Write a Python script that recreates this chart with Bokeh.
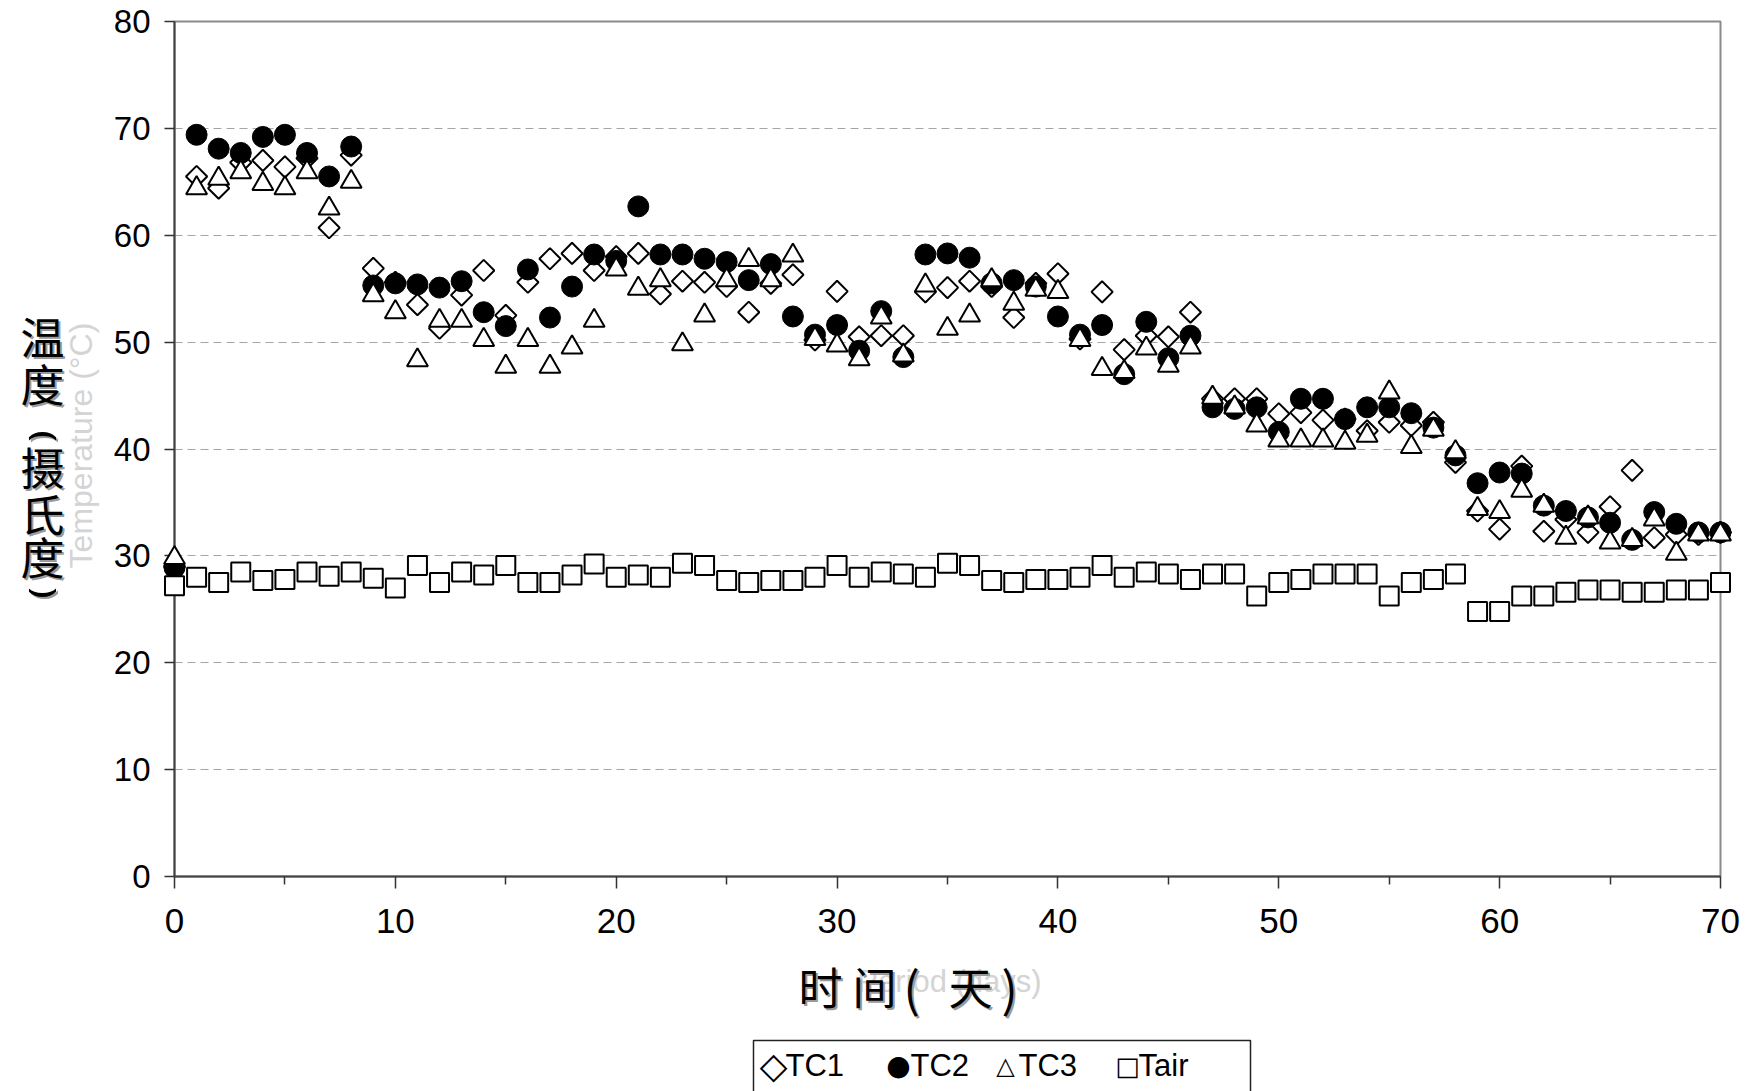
import math
from bokeh.plotting import figure
from bokeh.models import Range1d, FixedTicker, ColumnDataSource
from bokeh.core.properties import value
from bokeh.embed import file_html
from bokeh.resources import INLINE

# ---------------- data ----------------
days = list(range(71))
tc1 = [29.0, 65.5, 64.4, 66.8, 67.0, 66.4, 67.2, 60.7, 67.5, 56.9,
       55.6, 53.5, 51.3, 54.4, 56.7, 52.5, 55.6, 57.8, 58.3, 56.7,
       58.0, 58.3, 54.5, 55.7, 55.6, 55.2, 52.8, 55.5, 56.3, 50.2,
       54.75, 50.5, 50.6, 50.6, 54.7, 55.1, 55.7, 55.2, 52.3, 55.5,
       56.4, 50.3, 54.7, 49.3, 50.6, 50.5, 52.8, 44.7, 44.7, 44.7,
       43.3, 43.4, 42.7, 42.8, 41.7, 42.5, 42.2, 42.5, 38.75, 34.2,
       32.5, 38.4, 32.3, 33.4, 32.2, 34.6, 38.0, 31.7, 32.0, 32.0,
       32.2]
tc2 = [28.9, 69.4, 68.1, 67.7, 69.2, 69.4, 67.7, 65.5, 68.3, 55.3,
       55.5, 55.4, 55.1, 55.7, 52.8, 51.5, 56.8, 52.3, 55.2, 58.2,
       57.6, 62.7, 58.2, 58.2, 57.8, 57.5, 55.8, 57.3, 52.4, 50.7,
       51.6, 49.2, 52.9, 48.6, 58.2, 58.3, 57.9, 55.5, 55.8, 55.2,
       52.4, 50.7, 51.6, 47.0, 51.9, 48.5, 50.6, 43.9, 43.75, 43.9,
       41.6, 44.7, 44.7, 42.8, 43.9, 43.9, 43.35, 42.0, 39.4, 36.8,
       37.8, 37.7, 34.7, 34.2, 33.6, 33.1, 31.5, 34.1, 33.0, 32.2,
       32.2]
tc3 = [29.8, 64.4, 65.3, 65.9, 64.8, 64.4, 65.9, 62.5, 65.0, 54.4,
       52.8, 48.3, 52.0, 52.0, 50.2, 47.7, 50.2, 47.7, 49.5, 52.0,
       56.8, 55.0, 55.8, 49.8, 52.5, 55.8, 57.7, 55.8, 58.1, 50.3,
       49.7, 48.4, 52.3, 48.75, 55.3, 51.25, 52.5, 55.8, 53.6, 54.9,
       54.7, 50.2, 47.5, 47.2, 49.4, 47.8, 49.5, 44.8, 43.9, 42.2,
       40.8, 40.8, 40.8, 40.6, 41.25, 45.3, 40.2, 41.8, 39.7, 34.4,
       34.1, 36.1, 34.7, 31.7, 33.6, 31.25, 31.5, 33.4, 30.2, 32.0,
       32.0]
tair = [27.2, 28.0, 27.5, 28.5, 27.7, 27.8, 28.5, 28.1, 28.5, 27.9,
        27.0, 29.1, 27.5, 28.5, 28.2, 29.1, 27.5, 27.5, 28.2, 29.25,
        28.0, 28.2, 28.0, 29.3, 29.1, 27.7, 27.5, 27.7, 27.7, 28.0,
        29.1, 28.0, 28.5, 28.3, 28.0, 29.3, 29.1, 27.7, 27.5, 27.8,
        27.8, 28.0, 29.1, 28.0, 28.5, 28.3, 27.8, 28.3, 28.3, 26.25,
        27.5, 27.8, 28.3, 28.3, 28.3, 26.25, 27.5, 27.8, 28.3, 24.8,
        24.8, 26.25, 26.25, 26.6, 26.8, 26.8, 26.6, 26.6, 26.8, 26.8,
        27.5]
series_names = ["TC1", "TC2", "TC3", "Tair"]
legend_symbols = ["◇", "●", "△", "□"]
x_ticks = [0, 10, 20, 30, 40, 50, 60, 70]
x_minor = [5, 15, 25, 35, 45, 55, 65]
y_ticks = [0, 10, 20, 30, 40, 50, 60, 70, 80]
x_title_chars = ["时", "间", "(", "天", ")"]
x_ghost = "Period (days)"
y_title_chars = ["温", "度", "⌢", "摄", "氏", "度", "⌣"]
y_ghost = "Temperature (°C)"

# ---------------- layout ----------------
W, H = 1751, 1091
FL, FR, FT, FB = 174, 1720, 21, 876   # frame in canvas px
XMIN, XMAX, YMIN, YMAX = 0, 70, 0, 80

def dx(px):
    return XMIN + (px - FL) * (XMAX - XMIN) / (FR - FL)

def dy(py):
    return YMIN + (FB - py) * (YMAX - YMIN) / (FB - FT)

p = figure(width=W, height=H, output_backend="svg", toolbar_location=None,
           x_range=Range1d(XMIN, XMAX), y_range=Range1d(YMIN, YMAX),
           min_border_left=FL, min_border_right=W - FR,
           min_border_top=FT, min_border_bottom=H - FB)
p.background_fill_color = "white"
p.border_fill_color = "white"
p.outline_line_color = "#8a8a8a"
p.outline_line_width = 2

p.xgrid.visible = False
p.ygrid.grid_line_color = "#a6a6a6"
p.ygrid.grid_line_dash = "8 5"
p.ygrid.grid_line_width = 1
p.ygrid.ticker = FixedTicker(ticks=y_ticks)

p.xaxis.ticker = FixedTicker(ticks=x_ticks, minor_ticks=x_minor)
p.yaxis.ticker = FixedTicker(ticks=y_ticks)
for ax in (p.xaxis[0], p.yaxis[0]):
    ax.axis_line_color = "#444444"
    ax.axis_line_width = 2
    ax.major_tick_line_color = "#333333"
    ax.major_tick_line_width = 1.5
    ax.minor_tick_line_color = "#333333"
    ax.minor_tick_line_width = 1.5
    ax.major_tick_in = 0
    ax.minor_tick_in = 0
    ax.major_label_text_font = "Liberation Sans"
    ax.major_label_text_color = "black"
p.xaxis.major_tick_out = 12
p.xaxis.minor_tick_out = 8
p.xaxis.major_label_text_font_size = "35px"
p.xaxis.major_label_standoff = 20
p.yaxis.major_tick_out = 10
p.yaxis.minor_tick_out = 0
p.yaxis.major_label_text_font_size = "33px"
p.yaxis.major_label_standoff = 14

src = ColumnDataSource(dict(x=days, tc1=tc1, tc2=tc2, tc3=tc3, tair=tair))
r1 = p.scatter("x", "tc1", source=src, marker="square", angle=math.pi / 4, size=15,
               fill_color="white", line_color="black", line_width=2, level="overlay")
r2 = p.scatter("x", "tc2", source=src, marker="circle", size=21,
               fill_color="black", line_color="black", line_width=1, level="overlay")
r3 = p.scatter("x", "tc3", source=src, marker="triangle", size=21,
               fill_color="white", line_color="black", line_width=2, level="overlay")
r4 = p.scatter("x", "tair", source=src, marker="square", size=19,
               fill_color="white", line_color="black", line_width=2, level="overlay")

# ---------------- titles (text glyphs, drawn unclipped at overlay level) ----------------
def lab(text, px, py, size, font, color="black", align="center", baseline="middle", angle=0.0):
    p.text(x=[dx(px)], y=[dy(py)], text=[text], text_font=value(font),
           text_font_size=value(f"{size}px"), text_color=color,
           text_align=align, text_baseline=baseline, angle=angle, level="overlay")

# ghost english titles (light grey, underneath)
lab(x_ghost, 949, 981, 31, "Liberation Sans", color="#d4d4d4")
lab(y_ghost, 80, 445, 32, "Liberation Sans", color="#d4d4d4", angle=math.pi / 2)

# x title with shadow, character by character
x_pos = [820, 874, 911, 970, 1009]
for ch, px in zip(x_title_chars, x_pos):
    size = 48 if ch in "()" else 44
    lab(ch, px + 2, 987, size, "Noto Sans CJK SC", color="#9a9a9a")
    lab(ch, px, 985, size, "Noto Sans CJK SC")

# y title, stacked characters (vertical-writing parentheses as arches)
y_pos = [335, 382, 430, 465, 512, 555, 587]
for ch, py in zip(y_title_chars, y_pos):
    if ch in "⌢⌣":
        lab(ch, 44, py + 2, 50, "DejaVu Sans", color="#9a9a9a")
        lab(ch, 42, py, 50, "DejaVu Sans")
    else:
        lab(ch, 44, py + 2, 44, "Noto Sans CJK SC", color="#9a9a9a")
        lab(ch, 42, py, 44, "Noto Sans CJK SC")

# ---------------- legend ----------------
p.quad(left=[dx(753)], right=[dx(1250)], top=[dy(1040)], bottom=[dy(1130)],
       fill_color="white", line_color="#222222", line_width=1.5, level="overlay")
sym_x = [773, 898, 1005, 1127]
sym_size = [36, 28, 24, 26]
txt_x = [785, 910, 1018, 1138]
for s, sxp, ss in zip(legend_symbols, sym_x, sym_size):
    lab(s, sxp, 1065, ss, "DejaVu Sans")
for name, tx in zip(series_names, txt_x):
    lab(name, tx, 1065, 31, "Liberation Sans", align="left", baseline="middle")

open("out.html", "w").write(file_html(p, INLINE))
